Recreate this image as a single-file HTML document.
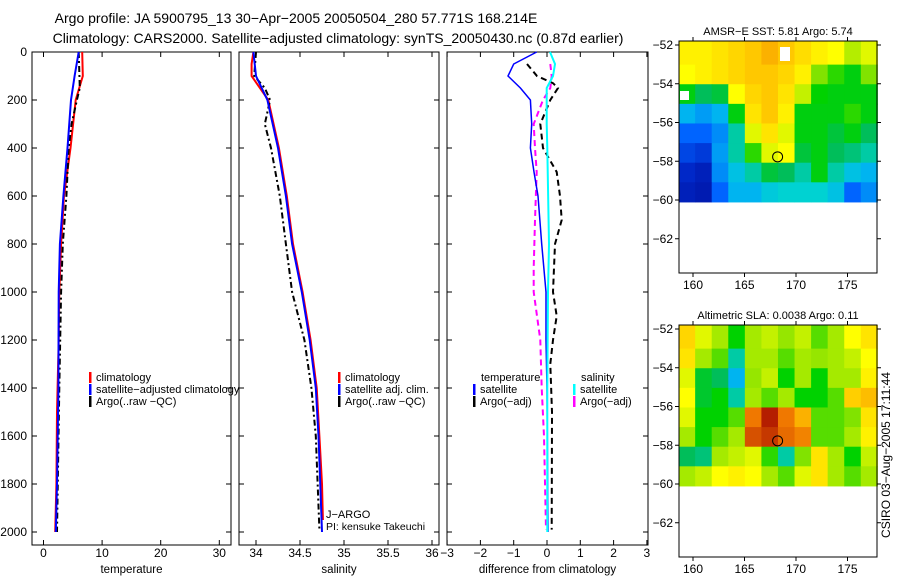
<!DOCTYPE html>
<html><head><meta charset="utf-8"><style>
body{margin:0;background:#fff;}
svg{display:block;font-family:"Liberation Sans",sans-serif;}
</style></head><body>
<svg id="fig" width="900" height="580" viewBox="0 0 900 580" xmlns="http://www.w3.org/2000/svg">
<rect width="900" height="580" fill="#fff"/>
<text x="296" y="23" font-size="14" text-anchor="middle">Argo profile: JA 5900795_13 30−Apr−2005 20050504_280 57.771S 168.214E</text>
<text x="338" y="43" font-size="14" text-anchor="middle">Climatology: CARS2000. Satellite−adjusted climatology: synTS_20050430.nc (0.87d earlier)</text>
<g id="layer"></g>
<text transform="translate(890,455) rotate(-90)" font-size="12" text-anchor="middle">CSIRO 03−Aug−2005 17:11:44</text>
</svg>
<script>
// ---------- data ----------
const tempClimDepth = [0,100,200,400,600,800,1000,1200,1500,1800,2000];
const tempClim      = [6.6,6.7,5.5,4.6,3.5,3.0,2.7,2.6,2.3,2.2,2.0];
const tempSatDepth  = [0,100,200,400,600,800,1000,1400,1800,2000];
const tempSat       = [6.0,5.3,4.7,4.1,3.4,2.8,2.6,2.55,2.3,2.1];
const tempArgoDepth = [0,150,200,300,400,600,800,1000,1400,2000];
const tempArgo      = [6.0,6.2,5.7,4.8,4.3,3.9,3.3,3.0,2.7,2.3];

const salClimDepth = [0,50,100,200,400,600,800,1000,1200,1400,1600,1800,1950];
const salClim      = [33.97,33.95,33.95,34.14,34.26,34.35,34.42,34.53,34.62,34.69,34.72,34.75,34.76];
const salSatDepth  = [0,100,200,400,600,800,1000,1200,1400,1600,2000];
const salSat       = [33.97,34.0,34.13,34.25,34.34,34.41,34.52,34.61,34.68,34.71,34.75];
const salArgoDepth = [0,100,150,200,300,400,600,800,1000,1200,1400,1600,1990];
const salArgo      = [34.0,33.98,34.1,34.16,34.10,34.17,34.27,34.34,34.41,34.55,34.63,34.68,34.72];

const dTempSatDepth = [0,50,100,150,200,300,400,500,600,800,1000,1200,1400,2000];
const dTempSat      = [-0.31,-1.0,-1.17,-0.8,-0.5,-0.46,-0.5,-0.39,-0.27,-0.16,-0.03,-0.03,0.0,0.03];
const dSalSatDepth  = [0,50,100,150,300,400,800,1000,1400,2000];
const dSalSat       = [0.09,0.24,0.18,-0.01,-0.01,0.01,0.06,0.03,0.01,0.01];
const dTempArgoDepth= [50,100,130,150,200,300,400,500,600,700,800,1000,1100,1200,1300,1500,1990];
const dTempArgo     = [-0.6,-0.3,0.18,0.33,0.1,-0.2,-0.12,0.29,0.39,0.44,0.24,0.18,0.29,0.18,0.1,0.15,0.14];
const dSalArgoDepth = [50,100,150,200,300,400,500,700,900,1000,1200,1400,1600,1990];
const dSalArgo      = [0.1,0.14,0.1,-0.12,-0.4,-0.36,-0.31,-0.36,-0.4,-0.4,-0.2,-0.16,-0.09,-0.03];

const depthTicks = [0,200,400,600,800,1000,1200,1400,1600,1800,2000];
const tempTicks = [0,10,20,30];
const salTicks = [34,34.5,35,35.5,36];
const diffTicks = [-3,-2,-1,0,1,2,3];
const latTicks = [-52,-54,-56,-58,-60,-62];
const lonTicks = [160,165,170,175];

const sstGrid = [
[.72,.72,.74,.76,.78,.80,.78,.75,.72,.70,.65,.68],
[.70,.72,.74,.76,.78,.78,.76,.72,.62,.58,.55,.62],
[.55,.50,.52,.70,.76,.78,.74,.66,.56,.55,.55,.55],
[.35,.32,.35,.55,.74,.78,.72,.55,.55,.55,.58,.55],
[.25,.25,.30,.45,.68,.74,.68,.55,.55,.52,.55,.50],
[.20,.18,.32,.45,.58,.68,.70,.52,.55,.50,.48,.45],
[.15,.12,.30,.38,.45,.52,.50,.45,.55,.45,.38,.35],
[.12,.10,.25,.35,.35,.40,.42,.42,.42,.38,.25,.30]];
const slaGrid = [
[.76,.68,.64,.56,.64,.66,.63,.66,.60,.64,.70,.74],
[.74,.64,.60,.45,.64,.64,.60,.64,.63,.64,.66,.70],
[.68,.53,.50,.35,.63,.66,.56,.64,.56,.64,.64,.72],
[.70,.53,.56,.45,.64,.60,.64,.56,.56,.60,.77,.79],
[.68,.56,.56,.60,.85,.92,.85,.80,.60,.60,.62,.74],
[.64,.56,.60,.64,.88,.90,.86,.84,.60,.60,.64,.72],
[.50,.48,.64,.66,.68,.58,.45,.62,.74,.64,.56,.66],
[.64,.66,.70,.72,.70,.64,.60,.68,.74,.64,.60,.64]];
const floatLon = 168.214, floatLat = -57.771;

// ---------- helpers ----------
const NS="http://www.w3.org/2000/svg";
const layer=document.getElementById('layer');
function mk(tag,attrs,parent){const e=document.createElementNS(NS,tag);for(const k in attrs)e.setAttribute(k,attrs[k]);(parent||layer).appendChild(e);return e;}
function txt(x,y,s,size,anchor,parent){const t=mk('text',{x:x,y:y,'font-size':size,'text-anchor':anchor||'start'},parent);t.textContent=s;return t;}
const yDepth=d=>52+d*0.24;

function panel(name,x0,x1,xs,xticks,label,fmt){
  const g=mk('g',{});
  
  
  const fr=mk('rect',{x:x0,y:52,width:x1-x0,height:493,fill:'none',stroke:'#000','stroke-width':1},g);
  
  
  xticks.forEach(v=>{const x=xs(v);
    mk('line',{x1:x,x2:x,y1:545,y2:540,stroke:'#000'},g);
    mk('line',{x1:x,x2:x,y1:52,y2:57,stroke:'#000'},g);
    const t=txt(x,557,fmt(v),12,'middle',g);
    
    });
  depthTicks.forEach(d=>{const y=yDepth(d);
    mk('line',{x1:x0,x2:x0+5,y1:y,y2:y,stroke:'#000'},g);
    mk('line',{x1:x1,x2:x1-5,y1:y,y2:y,stroke:'#000'},g);});
  const l=txt((x0+x1)/2,573,label,11.5,'middle',g);
  
  
  return g;
}
function line(g,xs,vals,depths,color,w,dash,name){
  const pts=vals.map((v,i)=>xs(v).toFixed(1)+','+yDepth(depths[i]).toFixed(1)).join(' ');
  const p=mk('polyline',{points:pts,fill:'none',stroke:color,'stroke-width':w,'stroke-dasharray':dash||'none'},g);
  
  
}
function legend(g,x,y,color,label,name){
  mk('rect',{x:x,y:y-9,width:2.5,height:11,fill:color},g);
  const t=txt(x+7,y,label,11,'start',g);
  
  
}
const dashArgo='6 3 2 3';

depthTicks.forEach(d=>{const t=txt(27,yDepth(d)+4,String(d),12,'end');
  
  });

const xT=v=>43.5+v*5.86;
const g1=panel('temperature',32,231,xT,tempTicks,'temperature',v=>String(v));
line(g1,xT,tempClim,tempClimDepth,'#f00',2,null,'temperature-climatology-line');
line(g1,xT,tempArgo,tempArgoDepth,'#000',2,dashArgo,'temperature-argo-line');
line(g1,xT,tempSat,tempSatDepth,'#00f',2,null,'temperature-satellite-line');
legend(g1,89,381,'#f00','climatology','legend-climatology');
legend(g1,89,393,'#00f','satellite−adjusted climatology','legend-satellite-adjusted');
legend(g1,89,405,'#000','Argo(..raw −QC)','legend-argo');

const xS=v=>256+(v-34)*88;
const g2=panel('salinity',239,439,xS,salTicks,'salinity',v=>String(v));
line(g2,xS,salClim,salClimDepth,'#f00',2,null,'salinity-climatology-line');
line(g2,xS,salArgo,salArgoDepth,'#000',2,dashArgo,'salinity-argo-line');
line(g2,xS,salSat,salSatDepth,'#00f',2,null,'salinity-satellite-line');
legend(g2,338,381,'#f00','climatology','legend-climatology-2');
legend(g2,338,393,'#00f','satellite adj. clim.','legend-satellite-2');
legend(g2,338,405,'#000','Argo(..raw −QC)','legend-argo-2');
const ja=txt(326,518,'J−ARGO',11,'start',g2);


const pi=txt(326,530,'PI: kensuke Takeuchi',10.5,'start',g2);



const xD=v=>547+v*33.3;
const g3=panel('difference',447,648,xD,diffTicks,'difference from climatology',v=>v<0?'−'+(-v):String(v));
line(g3,xD,dSalArgo,dSalArgoDepth,'#f0f',2,'6 4','salinity-argo-diff-line');
line(g3,xD,dTempArgo,dTempArgoDepth,'#000',2,'6 4','temperature-argo-diff-line');
line(g3,xD,dTempSat,dTempSatDepth,'#00f',1.5,null,'temperature-satellite-diff-line');
line(g3,xD,dSalSat,dSalSatDepth,'#0ff',2,null,'salinity-satellite-diff-line');
const lt=txt(481,381,'temperature',11,'start',g3);


legend(g3,473,393,'#00f','satellite','legend-temp-satellite');
legend(g3,473,405,'#000','Argo(−adj)','legend-temp-argo');
const ls=txt(581,381,'salinity',11,'start',g3);


legend(g3,573,393,'#0ff','satellite','legend-sal-satellite');
legend(g3,573,405,'#f0f','Argo(−adj)','legend-sal-argo');

// ---------- maps ----------
const cmStops=[[0,0,0,130],[.15,0,40,200],[.25,0,100,255],[.35,0,180,240],[.42,0,210,210],[.5,0,190,90],[.56,0,210,0],[.63,150,230,0],[.7,255,255,0],[.78,255,200,0],[.85,240,120,0],[.92,180,30,0],[1,130,0,0]];
function cmap(v){
  v=Math.max(0,Math.min(1,v));
  for(let i=1;i<cmStops.length;i++){const a=cmStops[i-1],b=cmStops[i];
    if(v<=b[0]){const t=(v-a[0])/(b[0]-a[0]);
      return 'rgb('+[1,2,3].map(k=>Math.round(a[k]+(b[k]-a[k])*t)).join(',')+')';}}
  return 'rgb(130,0,0)';
}
function map(name,top,bottom,lat52y,lat60y,grid,title){
  const g=mk('g',{});
  
  
  const x0=679,x1=877;
  const xL=lon=>693+(lon-160)*10.3;
  const yL=lat=>lat52y+(-52-lat)*(lat60y-lat52y)/8;
  const lon0=158.6,lon1=177.9,latTop=-52,latBot=-60.1;
  const rows=grid.length,cols=grid[0].length;
  const dLon=(lon1-lon0)/cols,dLat=(latBot-latTop)/rows;
  for(let r=0;r<rows;r++)for(let c=0;c<cols;c++){
    const xa=xL(lon0+c*dLon),xb=xL(lon0+(c+1)*dLon);
    const ya=r===0?top:yL(latTop+r*dLat),yb=yL(latTop+(r+1)*dLat);
    const cell=mk('rect',{x:xa,y:ya,width:xb-xa+0.5,height:yb-ya+0.5,fill:cmap(grid[r][c])},g);
    
    
  }
  const fr=mk('rect',{x:x0,y:top,width:x1-x0,height:bottom-top,fill:'none',stroke:'#000'},g);
  
  
  latTicks.forEach(l=>{const y=yL(l);
    mk('line',{x1:x0,x2:x0-4,y1:y,y2:y,stroke:'#000'},g);
    mk('line',{x1:x1,x2:x1+4,y1:y,y2:y,stroke:'#000'},g);
    const t=txt(x0-6,y+4,'−'+(-l),12,'end',g);
    
    });
  lonTicks.forEach(l=>{const x=xL(l);
    mk('line',{x1:x,x2:x,y1:bottom,y2:bottom+4,stroke:'#000'},g);
    mk('line',{x1:x,x2:x,y1:top,y2:top-4,stroke:'#000'},g);
    const t=txt(x,bottom+16,String(l),12,'middle',g);
    
    });
  const tt=txt((x0+x1)/2,top-6,title,11,'middle',g);
  
  
  const c=mk('circle',{cx:xL(floatLon),cy:yL(floatLat),r:5,fill:'none',stroke:'#000'},g);
  
  
}
map('sst-map',41,273,45,200,sstGrid,'AMSR−E SST: 5.81 Argo: 5.74');
map('sla-map',325,557,329,484,slaGrid,'Altimetric SLA: 0.0038 Argo: 0.11');
const w1=mk('rect',{x:780,y:47,width:10,height:14,fill:'#fff'});


const w2=mk('rect',{x:680,y:91,width:9,height:9,fill:'#fff'});


</script>
</body></html>
